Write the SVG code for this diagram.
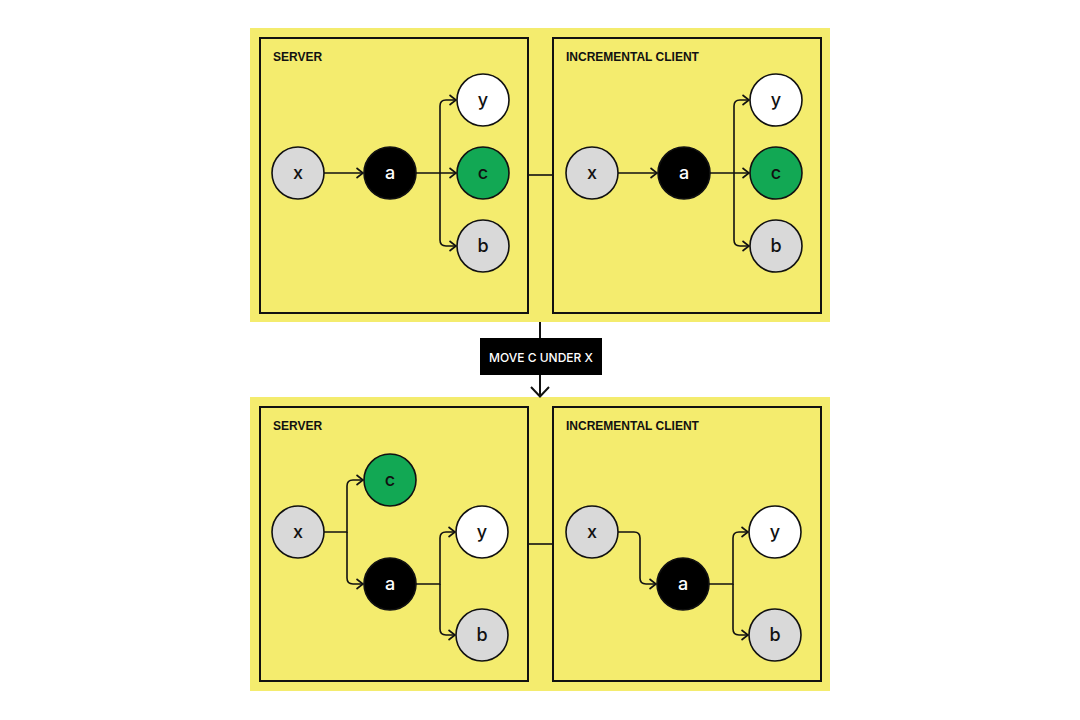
<svg xmlns="http://www.w3.org/2000/svg" width="1080" height="720" viewBox="0 0 1080 720">
<defs>
<style>
.band{fill:#F4EC6E}
.panel{fill:none;stroke:#111;stroke-width:2}
.title{font-family:"Liberation Sans",Arial,sans-serif;font-weight:bold;font-size:12px;fill:#111}
.lbl{font-family:Inter,"Liberation Sans",Arial,sans-serif;font-weight:500;font-size:18px;text-anchor:middle}
.n{stroke:#111;stroke-width:1.6}
.gray{fill:#D9D9D9}
.white{fill:#FFFFFF}
.green{fill:#12A854}
.black{fill:#000000}
.dark{fill:#111}
.light{fill:#FFFFFF}
.edge{fill:none;stroke:#111;stroke-width:1.6}
.arr{marker-end:url(#arr)}
</style>
<marker id="arr" viewBox="0 0 10 12" refX="9" refY="6" markerWidth="10" markerHeight="12" markerUnits="userSpaceOnUse" orient="auto">
<path d="M2.5,1 L9,6 L2.5,11" fill="none" stroke="#111" stroke-width="1.6"/>
</marker>
<marker id="bigarr" viewBox="0 0 20 12" refX="10" refY="11" markerWidth="20" markerHeight="12" markerUnits="userSpaceOnUse" orient="0">
<path d="M1,1 L10,10.5 L19,1" fill="none" stroke="#111" stroke-width="2"/>
</marker>
</defs>

<rect class="band" x="250" y="28" width="580" height="294"/>
<rect class="band" x="250" y="397" width="580" height="294"/>

<g id="panel-top-server">
<rect class="panel" x="260" y="38" width="268" height="275"/>
<text class="title" x="273" y="61">SERVER</text>
</g>
<g id="panel-top-client">
<rect class="panel" x="553" y="38" width="268" height="275"/>
<text class="title" x="566" y="61">INCREMENTAL CLIENT</text>
</g>
<g id="panel-bottom-server">
<rect class="panel" x="260" y="407" width="268" height="274"/>
<text class="title" x="273" y="430">SERVER</text>
</g>
<g id="panel-bottom-client">
<rect class="panel" x="553" y="407" width="268" height="274"/>
<text class="title" x="566" y="430">INCREMENTAL CLIENT</text>
</g>

<g id="connectors">
<path class="edge" d="M528,175 H553"/>
<path class="edge" d="M528,544 H553"/>
<path class="edge" d="M540,322 V397" style="stroke-width:2;marker-end:url(#bigarr)"/>
<path class="edge arr" d="M324,173 H363"/>
<path class="edge arr" d="M416,173 H456"/>
<path class="edge arr" d="M440,173 V106 Q440,100 446,100 H456"/>
<path class="edge arr" d="M440,173 V240 Q440,246 446,246 H456"/>
<path class="edge arr" d="M618,173 H657"/>
<path class="edge arr" d="M710,173 H749"/>
<path class="edge arr" d="M734,173 V106 Q734,100 740,100 H749"/>
<path class="edge arr" d="M734,173 V240 Q734,246 740,246 H749"/>
<path class="edge arr" d="M324,532 H347 V486 Q347,480 353,480 H363"/>
<path class="edge arr" d="M347,532 V578 Q347,584 353,584 H363"/>
<path class="edge arr" d="M416,584 H440 V538 Q440,532 446,532 H455"/>
<path class="edge arr" d="M440,584 V629 Q440,635 446,635 H455"/>
<path class="edge arr" d="M618,532 H634 Q640,532 640,538 V578 Q640,584 646,584 H656"/>
<path class="edge arr" d="M709,584 H733 V538 Q733,532 739,532 H748"/>
<path class="edge arr" d="M733,584 V629 Q733,635 739,635 H748"/>
</g>

<g id="move-label">
<rect x="480" y="338" width="122" height="37" fill="#000"/>
<text x="541" y="361.5" text-anchor="middle" style="font-family:Inter,'Liberation Sans',Arial,sans-serif;font-weight:500;font-size:12px;fill:#fff">MOVE C UNDER X</text>
</g>

<g id="ts-x"><circle class="n gray" cx="298" cy="173" r="26"/><text class="lbl dark" x="298" y="178.5">x</text></g>
<g id="ts-a"><circle class="n black" cx="390" cy="173" r="26"/><text class="lbl light" x="390" y="178.5">a</text></g>
<g id="ts-y"><circle class="n white" cx="483" cy="100" r="26"/><text class="lbl dark" x="483" y="105.5">y</text></g>
<g id="ts-c"><circle class="n green" cx="483" cy="173" r="26"/><text class="lbl dark" x="483" y="178.5">c</text></g>
<g id="ts-b"><circle class="n gray" cx="483" cy="246" r="26"/><text class="lbl dark" x="483" y="252">b</text></g>

<g id="tc-x"><circle class="n gray" cx="592" cy="173" r="26"/><text class="lbl dark" x="592" y="178.5">x</text></g>
<g id="tc-a"><circle class="n black" cx="684" cy="173" r="26"/><text class="lbl light" x="684" y="178.5">a</text></g>
<g id="tc-y"><circle class="n white" cx="776" cy="100" r="26"/><text class="lbl dark" x="776" y="105.5">y</text></g>
<g id="tc-c"><circle class="n green" cx="776" cy="173" r="26"/><text class="lbl dark" x="776" y="178.5">c</text></g>
<g id="tc-b"><circle class="n gray" cx="776" cy="246" r="26"/><text class="lbl dark" x="776" y="252">b</text></g>

<g id="bs-x"><circle class="n gray" cx="298" cy="532" r="26"/><text class="lbl dark" x="298" y="537.5">x</text></g>
<g id="bs-c"><circle class="n green" cx="390" cy="480" r="26"/><text class="lbl dark" x="390" y="485.5">c</text></g>
<g id="bs-a"><circle class="n black" cx="390" cy="584" r="26"/><text class="lbl light" x="390" y="589.5">a</text></g>
<g id="bs-y"><circle class="n white" cx="482" cy="532" r="26"/><text class="lbl dark" x="482" y="537.5">y</text></g>
<g id="bs-b"><circle class="n gray" cx="482" cy="635" r="26"/><text class="lbl dark" x="482" y="641">b</text></g>

<g id="bc-x"><circle class="n gray" cx="592" cy="532" r="26"/><text class="lbl dark" x="592" y="537.5">x</text></g>
<g id="bc-a"><circle class="n black" cx="683" cy="584" r="26"/><text class="lbl light" x="683" y="589.5">a</text></g>
<g id="bc-y"><circle class="n white" cx="775" cy="532" r="26"/><text class="lbl dark" x="775" y="537.5">y</text></g>
<g id="bc-b"><circle class="n gray" cx="775" cy="635" r="26"/><text class="lbl dark" x="775" y="641">b</text></g>
</svg>
